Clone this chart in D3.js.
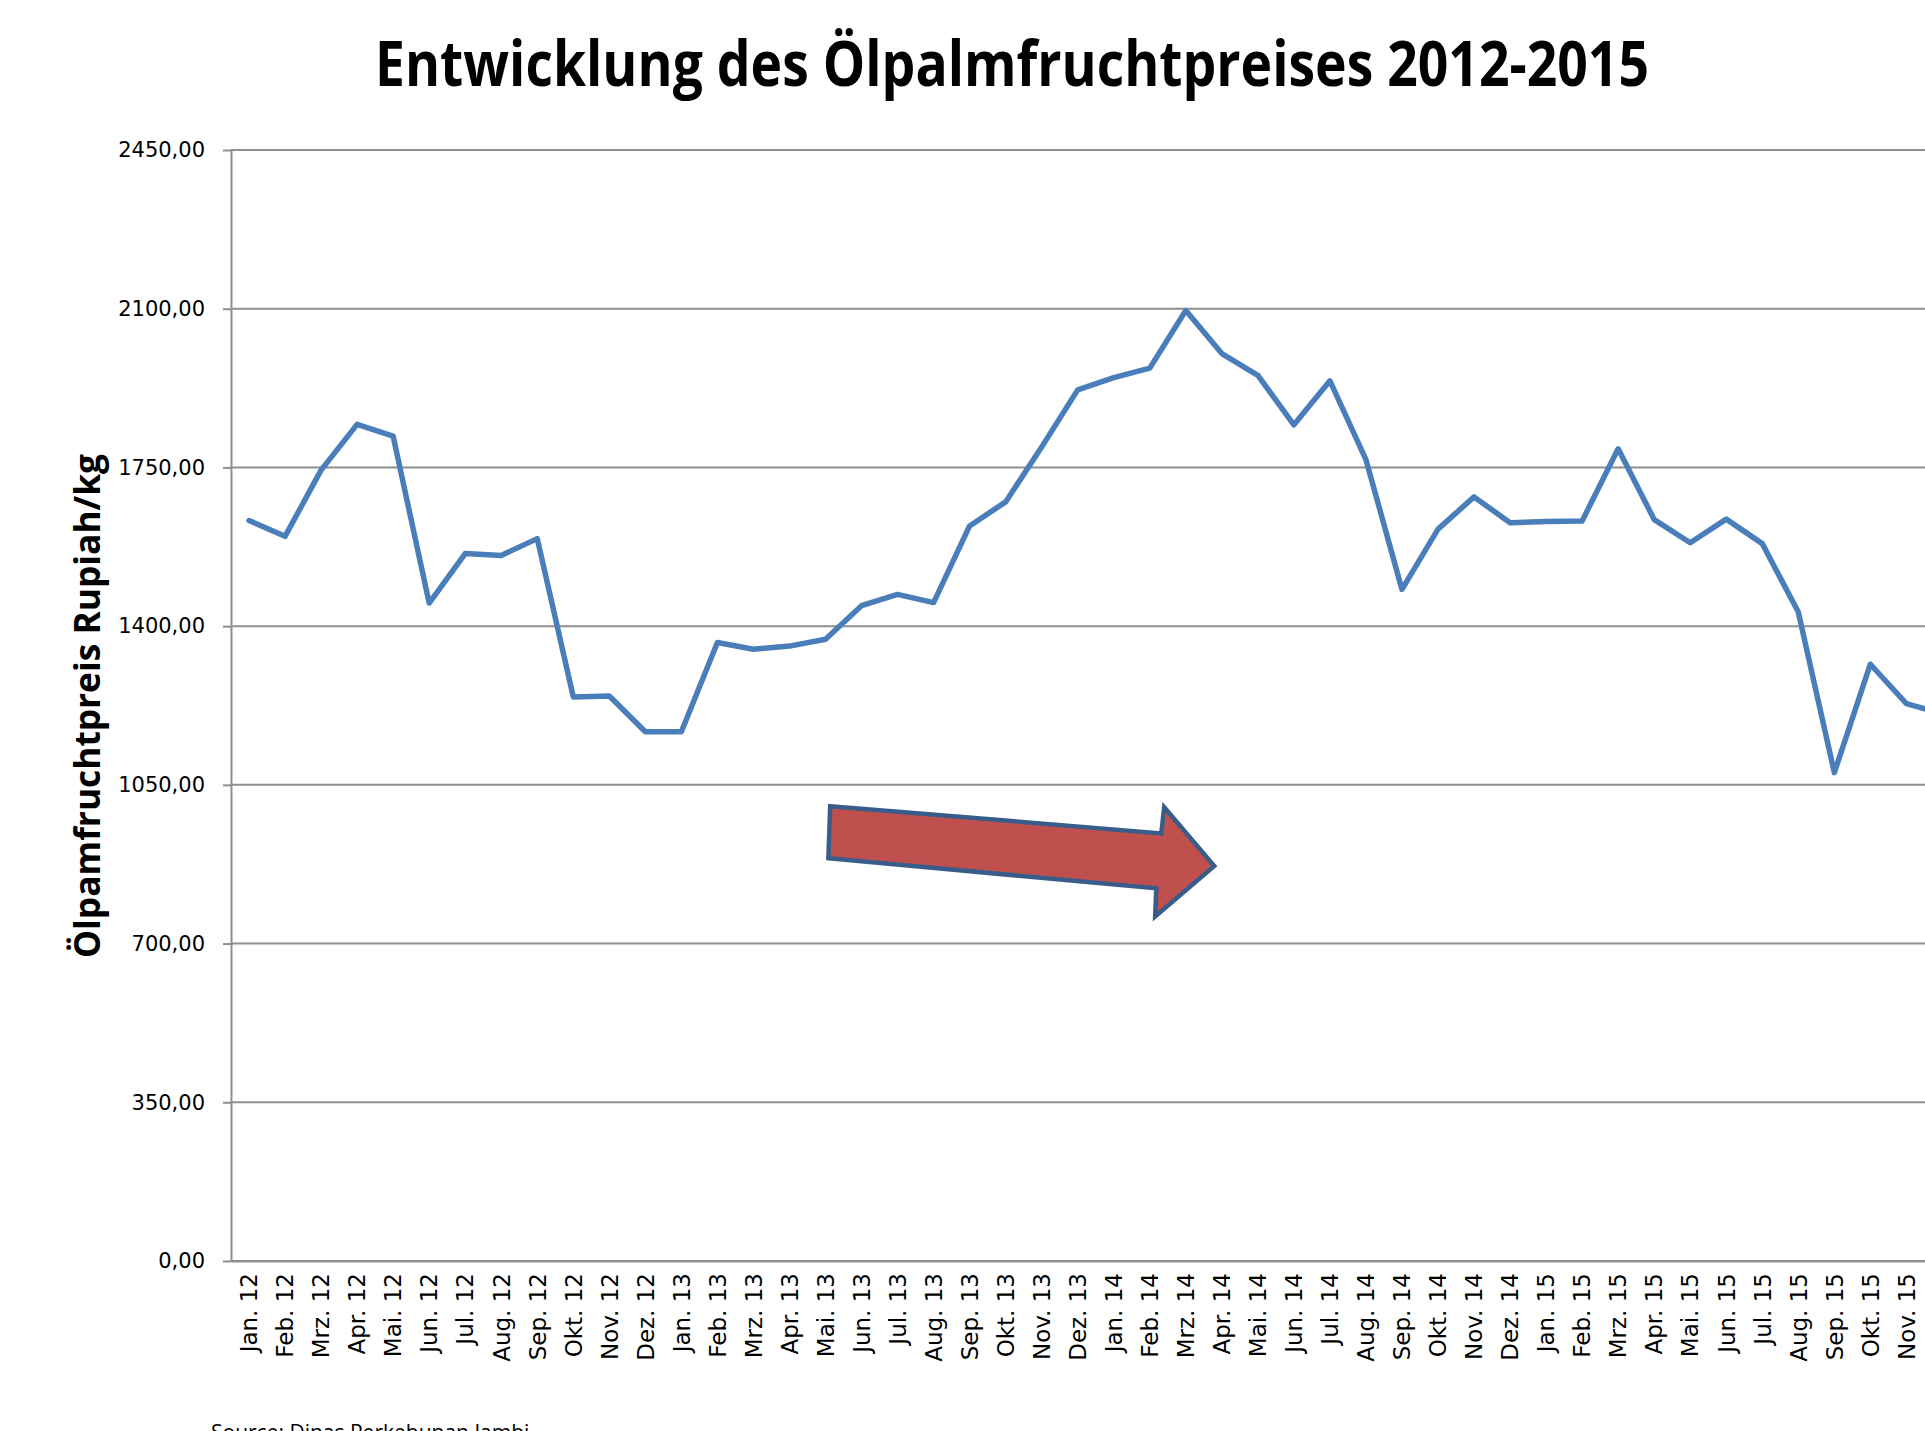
<!DOCTYPE html>
<html>
<head>
<meta charset="utf-8">
<script src="https://cdn.jsdelivr.net/npm/d3@7"></script>
<style>
  body { margin: 0; background: #fff; overflow: hidden; }
</style>
</head>
<body>
<svg width="1960" height="1431"></svg>
<script>
const monthNames = ["Jan.", "Feb.", "Mrz.", "Apr.", "Mai.", "Jun.", "Jul.", "Aug.", "Sep.", "Okt.", "Nov.", "Dez."];
const years = ["12", "13", "14", "15"];
const months = years.flatMap(yr => monthNames.map(m => `${m} ${yr}`));

// Rupiah/kg (Dez. 15 lies beyond the cropped right edge)
const prices2012 = [1633, 1598, 1744, 1845, 1819, 1451, 1560, 1556, 1593, 1244, 1246, 1167];
const prices2013 = [1167, 1364, 1349, 1356, 1371, 1445, 1470, 1452, 1621, 1674, 1795, 1921];
const prices2014 = [1948, 1969, 2096, 2001, 1953, 1844, 1941, 1767, 1481, 1614, 1685, 1628];
const prices2015 = [1631, 1632, 1791, 1635, 1584, 1636, 1582, 1431, 1077, 1316, 1229, 1207];
const prices = [...prices2012, ...prices2013, ...prices2014, ...prices2015];

const yTicks = [0, 350, 700, 1050, 1400, 1750, 2100, 2450];

// red arrow annotation, in (month index, price) space
const arrowIdx = [16.13, 25.32, 25.40, 26.79, 25.15, 25.18, 16.08];
const arrowVal = [1003, 943, 1001, 871, 760, 822, 888];

const svg = d3.select("svg");
const plot = {left: 231, top: 150, bottom: 1261, band: 36.03};
const gridColor = "#8f8f8f";

const x = d3.scaleBand()
  .domain(months)
  .range([plot.left, plot.left + months.length * plot.band]);

const y = d3.scaleLinear()
  .domain([0, 2450])
  .range([plot.bottom, plot.top]);

const xi = d3.scaleLinear()
  .domain([0, months.length - 1])
  .range([x(months[0]) + x.bandwidth() / 2, x(months[months.length - 1]) + x.bandwidth() / 2]);

// gridlines
svg.append("g")
  .selectAll("line")
  .data(yTicks)
  .join("line")
  .attr("x1", plot.left)
  .attr("x2", x.range()[1])
  .attr("y1", d => y(d))
  .attr("y2", d => y(d))
  .attr("stroke", gridColor)
  .attr("stroke-width", 2);

// y axis
const yAxis = svg.append("g")
  .attr("transform", `translate(${plot.left},0)`)
  .call(d3.axisLeft(y)
    .tickValues(yTicks)
    .tickSizeInner(8)
    .tickSizeOuter(0)
    .tickPadding(18)
    .tickFormat(d => d3.format(".2f")(d).replace(".", ",")))
  .attr("font-family", "'DejaVu Sans', sans-serif")
  .attr("font-size", 21);
yAxis.selectAll("line, path").attr("stroke", gridColor).attr("stroke-width", 2);
yAxis.selectAll("text").attr("fill", "#000");

// x axis (the Dez. 15 label sits past the cropped edge, so leave it out)
const xAxis = svg.append("g")
  .attr("transform", `translate(0,${plot.bottom})`)
  .call(d3.axisBottom(x).tickSize(0).tickPadding(0)
    .tickValues(months.slice(0, -1)))
  .attr("font-family", "'DejaVu Sans', sans-serif")
  .attr("font-size", 23);
xAxis.select(".domain").attr("stroke", gridColor).attr("stroke-width", 2);
xAxis.selectAll("text")
  .attr("fill", "#000")
  .attr("transform", "rotate(-90)")
  .attr("text-anchor", "end")
  .attr("x", -12)
  .attr("y", 0)
  .attr("dy", "0.36em");

// price line
svg.append("path")
  .datum(prices)
  .attr("fill", "none")
  .attr("stroke", "#4a7ebb")
  .attr("stroke-width", 5.5)
  .attr("stroke-linejoin", "round")
  .attr("stroke-linecap", "round")
  .attr("d", d3.line()
    .x((d, i) => xi(i))
    .y(d => y(d)));

// arrow
svg.append("path")
  .datum(arrowIdx.map((d, i) => [xi(d), y(arrowVal[i])]))
  .attr("d", d => d3.line()(d) + "Z")
  .attr("fill", "#c0504d")
  .attr("stroke", "#385d8a")
  .attr("stroke-width", 4.5)
  .attr("stroke-linejoin", "miter");

// title
svg.append("text")
  .attr("x", 1012)
  .attr("y", 86)
  .attr("text-anchor", "middle")
  .attr("font-family", "'Liberation Sans Narrow', 'Open Sans', sans-serif")
  .attr("font-weight", "bold")
  .attr("font-size", 63)
  .attr("textLength", 1274)
  .attr("lengthAdjust", "spacingAndGlyphs")
  .text("Entwicklung des Ölpalmfruchtpreises 2012-2015");

// y axis title
svg.append("text")
  .attr("transform", "translate(100,706) rotate(-90)")
  .attr("text-anchor", "middle")
  .attr("font-family", "'Liberation Sans Narrow', 'Open Sans', sans-serif")
  .attr("font-weight", "bold")
  .attr("font-size", 36)
  .attr("textLength", 504)
  .attr("lengthAdjust", "spacingAndGlyphs")
  .text("Ölpamfruchtpreis Rupiah/kg");

// source note (cut off at the bottom edge, as in the original)
svg.append("text")
  .attr("x", 211)
  .attr("y", 1440)
  .attr("font-family", "'Open Sans', sans-serif")
  .attr("font-size", 21)
  .text("Source: Dinas Perkebunan Jambi");
</script>
</body>
</html>
